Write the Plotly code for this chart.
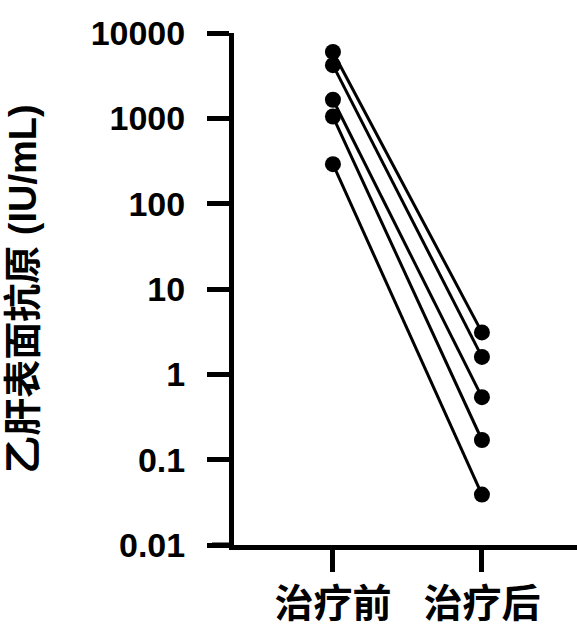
import plotly.graph_objects as go

groups = ["治疗前", "治疗后"]
before = [6000, 4200, 1650, 1050, 290]
after = [3.1, 1.6, 0.54, 0.17, 0.039]
y_ticks = [0.01, 0.1, 1, 10, 100, 1000, 10000]
y_tick_labels = ["0.01", "0.1", "1", "10", "100", "1000", "10000"]
y_title = "乙肝表面抗原 (IU/mL)"

FONT = "Liberation Sans, Arial, Noto Sans CJK SC, sans-serif"

fig = go.Figure()
for b, a in zip(before, after):
    fig.add_trace(go.Scatter(
        x=[0, 1], y=[b, a], mode="lines+markers",
        line=dict(color="black", width=3),
        marker=dict(color="black", size=16),
        showlegend=False, cliponaxis=False,
    ))

W, H = 577, 628
L, R, T, B = 234, 0, 33, 75
pw = W - L - R

fig.update_layout(
    width=W, height=H, autosize=False,
    margin=dict(l=L, r=R, t=T, b=B, pad=0),
    plot_bgcolor="white", paper_bgcolor="white",
    font=dict(family=FONT, color="black"),
    xaxis=dict(
        range=[-0.664, 1.638], tickvals=[0, 1], ticktext=groups,
        showgrid=False, zeroline=False,
        showline=True, linecolor="black", linewidth=5,
        ticks="outside", ticklen=22, tickwidth=5, tickcolor="black",
        tickfont=dict(family="Noto Sans CJK SC", size=39, weight="bold", color="black"),
        ticklabelstandoff=-2,
    ),
    yaxis=dict(
        type="log", range=[-2, 4], tickvals=y_ticks, ticktext=y_tick_labels,
        showgrid=False, zeroline=False,
        showline=True, linecolor="black", linewidth=5,
        ticks="outside", ticklen=22, tickwidth=5, tickcolor="black",
        tickfont=dict(family=FONT, size=34, weight="bold", color="black"),
        ticklabelstandoff=15,
        title=dict(text=y_title, font=dict(family=FONT, size=38, weight="bold", color="black"), standoff=44),
        automargin=False,
    ),
    shapes=[dict(type="line", xref="paper", yref="paper",
                 x0=-22 / pw, x1=0, y0=0, y1=0,
                 line=dict(color="black", width=5))],
)

page_css = (
    "var s=document.createElement('style');"
    "s.textContent='html,body{margin:0;padding:0;overflow:hidden;line-height:0;font-size:0;}"
    "body>div{display:block;height:628px;overflow:hidden;}';"
    "document.head.appendChild(s);"
)
fig.write_html("out.html", post_script=page_css,
               config={"displayModeBar": False, "staticPlot": True})
